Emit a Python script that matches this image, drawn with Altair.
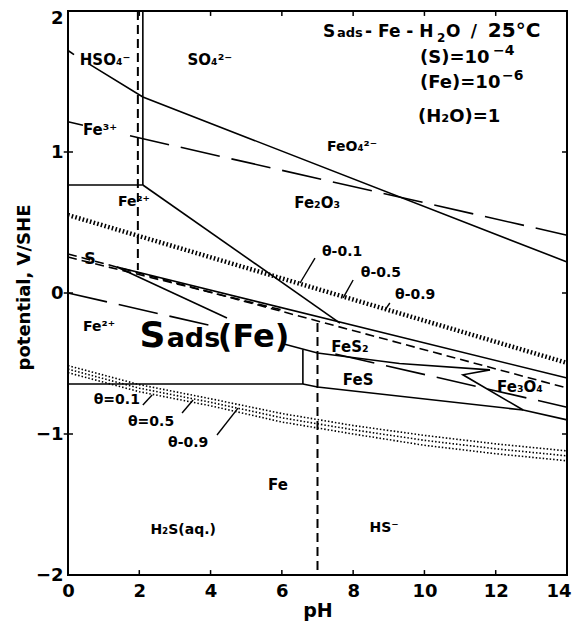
import altair as alt
import pandas as pd

FONT = "DejaVu Sans"

# ---------------- axis ticks ----------------
x_ticks = [0, 2, 4, 6, 8, 10, 12, 14]
y_ticks = [-2, -1, 0, 1, 2]

# ---------------- boundary lines (pH, E V/SHE) ----------------
# solid boundaries
hso4_a_ph = [0.0, 0.17];              hso4_a_e = [1.72, 1.69]
hso4_b_ph = [0.62, 2.10, 14.0];       hso4_b_e = [1.62, 1.39, 0.22]
fe_vert_ph = [2.10, 2.10];            fe_vert_e = [2.0, 0.766]
fe3_fe2_ph = [0.0, 2.10];             fe3_fe2_e = [0.766, 0.766]
fe2_fe2o3_ph = [2.10, 7.63];          fe2_fe2o3_e = [0.766, -0.213]
s_upper_ph = [1.375, 14.0];           s_upper_e = [0.184, -0.603]
sads_a_ph = [1.375, 4.46];            sads_a_e = [0.184, -0.177]
sads_b_ph = [6.03, 7.0, 9.3, 11.84];  sads_b_e = [-0.36, -0.425, -0.50, -0.545]
fes_vert_ph = [6.59, 6.59];           fes_vert_e = [-0.40, -0.645]
fe_low_ph = [0.0, 6.59, 7.0, 12.77, 14.0]
fe_low_e = [-0.645, -0.645, -0.667, -0.83, -0.90]
wedge_ph = [11.84, 11.08, 12.77];     wedge_e = [-0.545, -0.58, -0.83]
# long dashed (water limits)
o2_a_ph = [0.0, 0.42];                o2_a_e = [1.215, 1.19]
o2_b_ph = [1.74, 14.0];               o2_b_e = [1.115, 0.41]
h2_a_ph = [0.0, 4.27];                h2_a_e = [0.0, -0.246]
h2_b_ph = [7.5, 14.0];                h2_b_e = [-0.433, -0.81]
# short dashed (sulfur species)
s_dash1_ph = [0.0, 14.0];             s_dash1_e = [0.277, -0.674]
s_dash2_ph = [0.0, 6.0];              s_dash2_e = [0.255, -0.12]
hso4_vert_ph = [1.96, 1.96];          hso4_vert_e = [2.0, 0.163]
h2s_vert_ph = [7.0, 7.0];             h2s_vert_e = [-0.213, -2.0]
# adsorption (theta) lines
theta_up_ph = [0.0, 14.0];            theta_up_e = [0.553, -0.496]
theta_lo_ph = [0, 2, 4, 6, 8, 10, 12, 14]
theta_lo_01 = [-0.515, -0.65, -0.75, -0.855, -0.94, -1.01, -1.07, -1.12]
theta_lo_05 = [-0.54, -0.675, -0.775, -0.885, -0.97, -1.045, -1.105, -1.155]
theta_lo_09 = [-0.565, -0.70, -0.80, -0.915, -1.0, -1.08, -1.14, -1.19]

# pointer lines for theta labels
ptr_names = ["u01", "u05", "u09", "l01", "l05", "l09"]
ptr_ph0 = [6.93, 8.00, 9.03, 2.10, 3.20, 4.18]
ptr_e0 = [0.248, 0.092, -0.071, -0.794, -0.851, -1.007]
ptr_ph1 = [6.51, 7.72, 8.89, 2.36, 3.51, 4.77]
ptr_e1 = [0.071, -0.035, -0.121, -0.723, -0.759, -0.816]

# ---------------- labels ----------------
lab_text = ["HSO₄⁻", "SO₄²⁻", "Fe³⁺", "Fe²⁺", "Fe₂O₃", "FeO₄²⁻", "S", "Fe²⁺",
            "FeS₂", "FeS", "Fe₃O₄", "Fe", "H₂S(aq.)", "HS⁻",
            "θ-0.1", "θ-0.5", "θ-0.9", "θ=0.1", "θ=0.5", "θ-0.9"]
lab_ph = [1.04, 3.98, 0.90, 1.85, 6.99, 7.97, 0.62, 0.87,
          7.91, 8.14, 12.68, 5.89, 3.23, 8.87,
          7.69, 8.78, 9.74, 1.37, 2.33, 3.37]
lab_e = [1.652, 1.652, 1.156, 0.645, 0.638, 1.035, 0.241, -0.241,
         -0.383, -0.617, -0.667, -1.362, -1.681, -1.667,
         0.291, 0.142, -0.014, -0.759, -0.915, -1.064]
lab_size = [15, 15, 15, 14, 15, 14, 16, 14,
            15, 15, 15, 15, 14, 14,
            14, 14, 14, 14, 14, 14]

big_text = ["S", "ads", "(Fe)"]
big_ph = [2.37, 3.52, 5.205]
big_e = [-0.383, -0.383, -0.383]
big_size = [36, 27, 32]

# header: title line (baseline) and conditions (middle)
title_text = ["S", "ads", "- Fe - H", "2", "O", "/", "25°C"]
title_ph = [7.155, 7.548, 8.333, 10.354, 10.606, 11.30, 11.78]
title_e = [1.816, 1.816, 1.816, 1.78, 1.816, 1.816, 1.816]
title_size = [17, 13, 17, 12, 17, 17, 20]

cond_text = ["(S)=10", "−4", "(Fe)=10", "−6", "(H₂O)=1"]
cond_ph = [9.877, 11.925, 9.877, 12.177, 9.82]
cond_e = [1.667, 1.716, 1.489, 1.539, 1.248]
cond_size = [18, 14, 18, 14, 18]

# ---------------- build tables ----------------
segments = [
    ("hso4_a", "solid", hso4_a_ph, hso4_a_e),
    ("hso4_b", "solid", hso4_b_ph, hso4_b_e),
    ("fe_vert", "solid", fe_vert_ph, fe_vert_e),
    ("fe3_fe2", "solid", fe3_fe2_ph, fe3_fe2_e),
    ("fe2_fe2o3", "solid", fe2_fe2o3_ph, fe2_fe2o3_e),
    ("s_upper", "solid", s_upper_ph, s_upper_e),
    ("sads_a", "solid", sads_a_ph, sads_a_e),
    ("sads_b", "solid", sads_b_ph, sads_b_e),
    ("fes_vert", "solid", fes_vert_ph, fes_vert_e),
    ("fe_low", "solid", fe_low_ph, fe_low_e),
    ("wedge", "solid", wedge_ph, wedge_e),
    ("o2_a", "long", o2_a_ph, o2_a_e),
    ("o2_b", "long", o2_b_ph, o2_b_e),
    ("h2_a", "long", h2_a_ph, h2_a_e),
    ("h2_b", "long", h2_b_ph, h2_b_e),
    ("s_dash1", "short", s_dash1_ph, s_dash1_e),
    ("s_dash2", "short", s_dash2_ph, s_dash2_e),
    ("hso4_vert", "vdash", hso4_vert_ph, hso4_vert_e),
    ("h2s_vert", "vdash", h2s_vert_ph, h2s_vert_e),
    ("theta_up", "hatch", theta_up_ph, theta_up_e),
    ("theta_01", "dot", theta_lo_ph, theta_lo_01),
    ("theta_05", "dot", theta_lo_ph, theta_lo_05),
    ("theta_09", "dot", theta_lo_ph, theta_lo_09),
]
for n, a, b, c, d in zip(ptr_names, ptr_ph0, ptr_e0, ptr_ph1, ptr_e1):
    segments.append(("ptr_" + n, "thin", [a, c], [b, d]))

rows = []
for name, style, phs, es in segments:
    for i, (p, e) in enumerate(zip(phs, es)):
        rows.append({"seg": name, "style": style, "ord": i, "ph": p, "e": e})
lines_df = pd.DataFrame(rows)

labels_df = pd.DataFrame({"t": lab_text, "ph": lab_ph, "e": lab_e, "s": lab_size})
big_df = pd.DataFrame({"t": big_text, "ph": big_ph, "e": big_e, "s": big_size})
title_df = pd.DataFrame({"t": title_text, "ph": title_ph, "e": title_e, "s": title_size})
cond_df = pd.DataFrame({"t": cond_text, "ph": cond_ph, "e": cond_e, "s": cond_size})

tick_rows = []
for t in x_ticks[1:-1]:
    tick_rows.append({"x": t, "x2": t, "y": -2.0, "y2": -1.965})
    tick_rows.append({"x": t, "x2": t, "y": 2.0, "y2": 1.965})
for t in y_ticks[1:-1]:
    tick_rows.append({"x": -0.12, "x2": 0.14, "y": t, "y2": t})
    tick_rows.append({"x": 14.0, "x2": 13.86, "y": t, "y2": t})
ticks_df = pd.DataFrame(tick_rows)

xs = alt.Scale(domain=[0, 14], nice=False, zero=False)
ys = alt.Scale(domain=[-2, 2], nice=False, zero=False)

xaxis = alt.Axis(values=x_ticks, ticks=False, domain=False, grid=False, format="d",
                 labelFlush=False,
                 labelAlign={"condition": {"test": "datum.value == 14", "value": "right"},
                             "value": "center"},
                 labelOffset={"condition": {"test": "datum.value == 14", "value": 4},
                              "value": 0},
                 labelFont=FONT, labelFontSize=18, labelFontWeight="bold",
                 labelPadding=7, labelColor="black",
                 title="pH", titleFont=FONT, titleFontSize=19, titleFontWeight="bold",
                 titlePadding=1, titleColor="black")
yaxis = alt.Axis(values=y_ticks, ticks=False, domain=False, grid=False, format="d",
                 labelFlush=False,
                 labelFont=FONT, labelFontSize=18, labelFontWeight="bold",
                 labelPadding=5, labelColor="black",
                 labelOffset={"condition": {"test": "datum.value == 2", "value": 7}, "value": 0},
                 title="potential, V/SHE", titleFont=FONT, titleFontSize=18,
                 titleFontWeight="bold", titlePadding=2, titleY=276, titleColor="black")

base = alt.Chart(lines_df)
enc = dict(
    x=alt.X("ph:Q", scale=xs, axis=xaxis),
    y=alt.Y("e:Q", scale=ys, axis=yaxis),
    detail="seg:N",
    order=alt.Order("ord:Q"),
)
enc2 = dict(
    x=alt.X("ph:Q", scale=xs),
    y=alt.Y("e:Q", scale=ys),
    detail="seg:N",
    order=alt.Order("ord:Q"),
)


def layer(style, **mk):
    return base.transform_filter(alt.datum.style == style).mark_line(color="black", **mk)


solid = layer("solid", strokeWidth=1.6).encode(**enc)
longd = layer("long", strokeWidth=1.6, strokeDash=[40, 12]).encode(**enc2)
shortd = layer("short", strokeWidth=1.6, strokeDash=[9, 5]).encode(**enc2)
vdash = layer("vdash", strokeWidth=2, strokeDash=[9, 5]).encode(**enc2)
hatch = layer("hatch", strokeWidth=4.5, strokeDash=[1.6, 2.2]).encode(**enc2)
dot = layer("dot", strokeWidth=1.6, strokeDash=[1.5, 2]).encode(**enc2)
thin = layer("thin", strokeWidth=1.4).encode(**enc2)

ticks = alt.Chart(ticks_df).mark_rule(color="black", strokeWidth=1.5).encode(
    x=alt.X("x:Q", scale=xs), x2="x2:Q", y=alt.Y("y:Q", scale=ys), y2="y2:Q")


def text_layer(df, align, baseline):
    return alt.Chart(df).mark_text(font=FONT, fontWeight="bold", color="black",
                                   align=align, baseline=baseline).encode(
        x=alt.X("ph:Q", scale=xs), y=alt.Y("e:Q", scale=ys),
        text="t:N", size=alt.Size("s:Q", scale=None, legend=None))


labels = text_layer(labels_df, "center", "middle")
big = text_layer(big_df, "center", "alphabetic")
title = text_layer(title_df, "left", "alphabetic")
cond = text_layer(cond_df, "left", "middle")

chart = alt.layer(solid, longd, shortd, vdash, hatch, dot, thin, ticks,
                  labels, big, title, cond).properties(
    width=499, height=564,
    autosize=alt.AutoSizeParams(type="none"),
    padding={"left": 60, "top": 3, "right": 5, "bottom": 48},
    background="white",
).configure_view(stroke="black", strokeWidth=2)

chart.save("out.html", embed_options={"renderer": "svg", "actions": False})
